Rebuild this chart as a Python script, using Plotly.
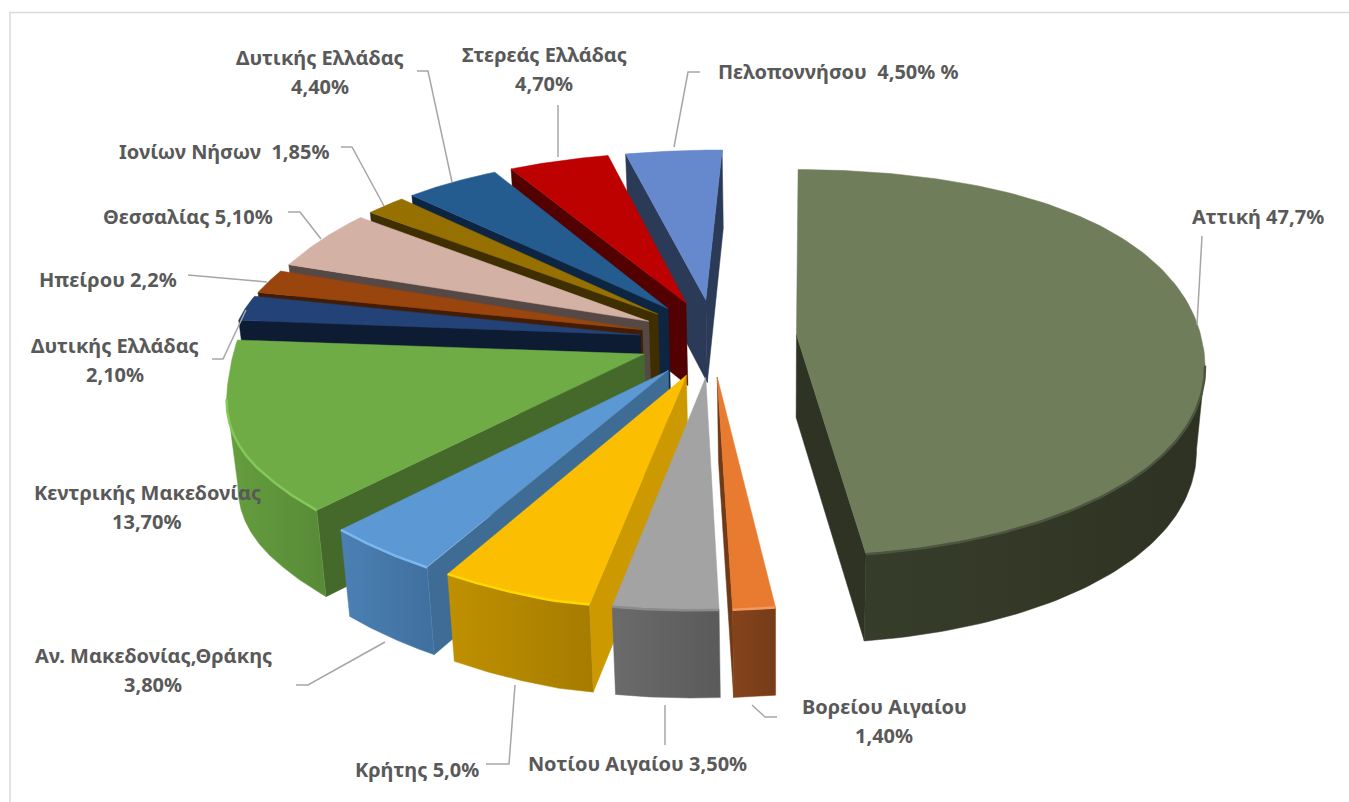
import numpy as np
import plotly.graph_objects as go

# ---- data (clockwise from 12 o'clock) ----
regions = ["Αττική", "Βορείου Αιγαίου", "Νοτίου Αιγαίου", "Κρήτης", "Αν. Μακεδονίας,Θράκης",
           "Κεντρικής Μακεδονίας", "Δυτικής Ελλάδας", "Ηπείρου", "Θεσσαλίας", "Ιονίων Νήσων",
           "Δυτικής Ελλάδας", "Στερεάς Ελλάδας", "Πελοποννήσου"]
shares = [47.7, 1.4, 3.5, 5.0, 3.8, 13.7, 2.1, 2.2, 5.1, 1.85, 4.4, 4.7, 4.5]

top_colors = ["#6F7D5A", "#E97B31", "#A3A3A3", "#FBBE00", "#5B98D4", "#6FAC46", "#234278",
              "#99450D", "#D3B1A5", "#967000", "#255C90", "#BD0000", "#6689CE"]
rim_left = ["#373D2B", "#85431B", "#6B6B6B", "#BF9000", "#4C80B4", "#659E3F", "#0D1B33",
            "#421D06", "#564945", "#3E2E00", "#0D2540", "#520000", "#2A3A57"]
rim_right = ["#2E3222", "#763C19", "#5A5A5A", "#A67C00", "#3F6F9E", "#588A37", "#0D1B33",
             "#421D06", "#564945", "#3E2E00", "#0D2540", "#520000", "#2A3A57"]
cut_colors = ["#2F3323", "#6E3A17", "#6B6B6B", "#CC9A00", "#3E6C95", "#45682B", "#0D1B33",
              "#421D06", "#564945", "#3E2E00", "#0D2540", "#520000", "#2A3A57"]
rim_light = ["#4C5540", "#F19A5E", "#8C8C8C", "#FFD800", "#7DB7EB", "#84C85A", "#234278",
             "#99450D", "#D3B1A5", "#967000", "#255C90", "#BD0000", "#7FA3E4"]
explode = [0.21, 0.18, 0.18, 0.18, 0.18, 0.18, 0.18, 0.18, 0.18, 0.18, 0.18, 0.18, 0.18]
radius_u = [1.005, 1, 1, 1, 1, 1, 1, 1, 1, 1, 1, 1, 1]
radius_v = [0.98, 1, 1, 1, 1, 1, 1, 1, 1, 1, 1, 1, 1]

label_lines = [
    ["Αττική 47,7%"], ["Βορείου Αιγαίου", "1,40%"], ["Νοτίου Αιγαίου 3,50%"], ["Κρήτης 5,0%"],
    ["Αν. Μακεδονίας,Θράκης", "3,80%"], ["Κεντρικής Μακεδονίας", "13,70%"],
    ["Δυτικής Ελλάδας", "2,10%"], ["Ηπείρου 2,2%"], ["Θεσσαλίας 5,10%"], ["Ιονίων Νήσων  1,85%"],
    ["Δυτικής Ελλάδας", "4,40%"], ["Στερεάς Ελλάδας", "4,70%"], ["Πελοποννήσου  4,50% %"],
]
label_x = [1258, 884, 637, 417, 153, 147, 115, 108, 188, 224, 320, 544, 838]
label_y = [216, 721, 763, 769, 670, 507, 360, 279, 216, 151, 72, 69, 71]
leaders = [
    [(1202, 236), (1197, 325)],
    [(752, 705), (765, 717), (777, 717)],
    [(665, 705), (665, 745)],
    [(515, 685), (509, 764), (486, 764)],
    [(385, 642), (308, 685), (296, 685)],
    None,
    [(246, 310), (223, 359), (212, 359)],
    [(267, 282), (188, 275)],
    [(321, 239), (300, 212), (288, 212)],
    [(384, 206), (352, 147), (341, 147)],
    [(452, 182), (428, 71), (417, 71)],
    [(558, 157), (558, 105)],
    [(674, 147), (688, 72), (700, 72)],
]

# ---- view of the tilted disc ----
CX, CY, RX, K = 712, 338, 403, 0.15
VX, SHRINK = 780, 0.98


def view(u, v):
    s = 1 / (1 - K * v)
    dy = np.where(v > 0, 218 * v + 9.2 * v ** 3, 222 * v + 53 * v ** 2)
    shear = np.where(v > 0, 0.055, np.where(u > 0.1, 0.075, 0.1))
    bulge = -13 * np.exp(-(v / 0.25) ** 2) * np.clip(-u - 0.5, 0, 0.5) / 0.5
    pull = np.clip(-u - 0.3, 0, 0.55) * np.clip((v - 0.2) / 0.5, 0, 1)
    return CX + RX * u * s - shear * dy - 13 * pull, CY + dy + bulge - 25 * pull, 83 + 4 * v


def low(x):
    return VX + (x - VX) * SHRINK


def poly(fig, x, y, color=None, grad=None):
    x, y = list(x), list(y)
    kw = dict(fillcolor=color) if grad is None else dict(
        fillgradient=dict(type="horizontal", colorscale=[[0, grad[0]], [1, grad[1]]]))
    fig.add_trace(go.Scatter(x=x + x[:1], y=y + y[:1], mode="lines", fill="toself",
                             line=dict(width=0.5, color=color or grad[0]),
                             hoverinfo="skip", showlegend=False, **kw))


fig = go.Figure()
# frame
fig.add_trace(go.Scatter(x=[10, 10, 1349], y=[802, 12.5, 12.5], mode="lines",
                         line=dict(color="#D9D9D9", width=1.5), hoverinfo="skip", showlegend=False))

edges = np.concatenate([[0], np.cumsum(shares)]) / np.sum(shares) * 2 * np.pi
geom = []
for i in range(len(shares)):
    a0, a1 = edges[i], edges[i + 1]
    mid = (a0 + a1) / 2
    ou, ov = explode[i] * np.sin(mid), -explode[i] * np.cos(mid)
    th = np.linspace(a0, a1, 160)
    rx, ry, rd = view(ou + radius_u[i] * np.sin(th), ov - radius_v[i] * np.cos(th))
    ax, ay, ad = view(np.array(ou), np.array(ov))
    geom.append((i, float(ax), float(ay), float(ad), rx, ry, rd, ry.mean() * 0.5 + ay * 0.5))

# back to front
for i, ax, ay, ad, rx, ry, rd, _ in sorted(geom, key=lambda g: g[7]):
    mx, my = rx[len(rx) // 2], ry[len(ry) // 2]
    for k in (0, -1):
        ex, ey = rx[k] - ax, ry[k] - ay
        inner = ex * (my - ay) - ey * (mx - ax)
        if ex * inner < 0:  # extruded side lies away from the top face -> visible
            poly(fig, [ax, rx[k], low(rx[k]), low(ax)], [ay, ry[k], ry[k] + rd[k], ay + ad], cut_colors[i])
    front = np.diff(rx) < 0
    if front.any():
        j = np.where(front)[0]
        a, b = j[0], j[-1] + 2
        poly(fig, np.r_[rx[a:b], low(rx[a:b])[::-1]], np.r_[ry[a:b], (ry + rd)[a:b][::-1]],
             grad=(rim_left[i], rim_right[i]))
    poly(fig, np.r_[ax, rx], np.r_[ay, ry], top_colors[i])
    if front.any():
        fig.add_trace(go.Scatter(x=rx[a:b], y=ry[a:b], mode="lines",
                                 line=dict(color=rim_light[i], width=2.5),
                                 hoverinfo="skip", showlegend=False))

for seg in leaders:
    if seg:
        fig.add_trace(go.Scatter(x=[p[0] for p in seg], y=[p[1] for p in seg], mode="lines",
                                 line=dict(color="#A6A6A6", width=1.5),
                                 hoverinfo="skip", showlegend=False))

for lines, x, y in zip(label_lines, label_x, label_y):
    for n, line in enumerate(lines):
        fig.add_annotation(x=x, y=y + (n - (len(lines) - 1) / 2) * 29, xref="x", yref="y",
                           text=line, showarrow=False,
                           font=dict(family="Noto Sans, Open Sans, sans-serif",
                                     size=20, color="#595959", weight="bold"))

fig.update_layout(width=1349, height=802, margin=dict(l=0, r=0, t=0, b=0), showlegend=False,
                  paper_bgcolor="white", plot_bgcolor="white",
                  xaxis=dict(range=[0, 1349], visible=False, fixedrange=True),
                  yaxis=dict(range=[802, 0], visible=False, fixedrange=True))
fig.write_html("out.html", post_script="document.body.style.margin='0';document.body.style.overflow='hidden';",
               config=dict(displayModeBar=False))
